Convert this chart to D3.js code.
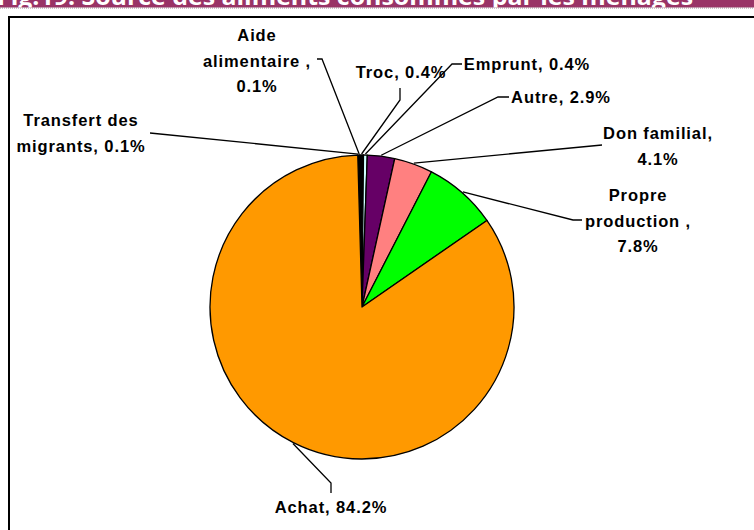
<!DOCTYPE html>
<html>
<head>
<meta charset="utf-8">
<script src="https://cdn.jsdelivr.net/npm/d3@7"></script>
<style>
  html, body { margin: 0; padding: 0; background: #fff; }
  svg { display: block; }
</style>
</head>
<body>
<svg id="chart" width="754" height="530"></svg>
<script>
// ---- data ----
const title = "Fig.19: Source des aliments consommés par les ménages";
const categories = ["Transfert des migrants", "Aide alimentaire", "Troc", "Emprunt", "Autre", "Don familial", "Propre production", "Achat"];
const values = [0.1, 0.1, 0.4, 0.4, 2.9, 4.1, 7.8, 84.2];
const labelLines = [
  ["Transfert des", "migrants, 0.1%"],
  ["Aide", "alimentaire ,", "0.1%"],
  ["Troc, 0.4%"],
  ["Emprunt, 0.4%"],
  ["Autre, 2.9%"],
  ["Don familial,", "4.1%"],
  ["Propre", "production ,", "7.8%"],
  ["Achat, 84.2%"]
];

// ---- styles / layout ----
const colors = ["#000000", "#000000", "#000000", "#CCFFFF", "#660066", "#FF8080", "#00FF00", "#FF9900"];
// label centre x, first baseline y
const labelPos = [[81, 126], [257, 41], [401, 78], [527, 70], [561, 103], [658, 139], [638, 201], [331, 513]];
// leader line points after the pie edge point
const leaderPts = [
  [[150, 133]],
  [[322, 59], [317, 59]],
  [[400, 100], [400, 88]],
  [[452, 64], [462, 64]],
  [[498, 97], [509, 97]],
  [[602, 145]],
  [[573, 220], [582, 220]],
  [[331, 483], [331, 493]]
];

const svg = d3.select("#chart");
const W = 754, H = 530;

// title band (clipped at top)
svg.append("rect").attr("x", 0).attr("y", 0).attr("width", W).attr("height", 7.5).attr("fill", "#993366");
svg.append("line").attr("x1", 0).attr("x2", W).attr("y1", 8).attr("y2", 8)
  .attr("stroke", "#9a8a90").attr("stroke-width", 1).attr("stroke-dasharray", "1,1");
svg.append("defs").append("clipPath").attr("id", "tclip")
  .append("rect").attr("x", 0).attr("y", 0).attr("width", W).attr("height", 7.5);
svg.append("text")
  .attr("clip-path", "url(#tclip)")
  .attr("x", -3).attr("y", 5)
  .attr("textLength", 696).attr("lengthAdjust", "spacingAndGlyphs")
  .attr("font-family", "'Open Sans', 'DejaVu Sans', sans-serif")
  .attr("font-weight", "bold").attr("font-size", 24)
  .attr("fill", "#ffffff")
  .text(title);

// chart frame
svg.append("rect").attr("x", 9).attr("y", 17).attr("width", W).attr("height", H)
  .attr("fill", "#fff").attr("stroke", "#000").attr("stroke-width", 2);

// pie
const cx = 362, cy = 307, r = 152;
const offset = -1.6 * Math.PI / 180;
const pie = d3.pie().sort(null).value(d => d)
  .startAngle(offset).endAngle(offset + 2 * Math.PI);
const arcs = pie(values);
const arc = d3.arc().innerRadius(0).outerRadius(r);

const g = svg.append("g").attr("transform", `translate(${cx},${cy})`);
g.selectAll("path.slice").data(arcs).enter().append("path")
  .attr("class", "slice")
  .attr("d", arc)
  .attr("fill", (d, i) => colors[i])
  .attr("stroke", "#000").attr("stroke-width", 1.3).attr("stroke-linejoin", "round");

// leader lines
arcs.forEach((d, i) => {
  const a = (d.startAngle + d.endAngle) / 2;
  const p0 = [cx + Math.sin(a) * (r + 1), cy - Math.cos(a) * (r + 1)];
  const pts = [p0].concat(leaderPts[i]);
  svg.append("path")
    .attr("d", d3.line()(pts))
    .attr("fill", "none").attr("stroke", "#000").attr("stroke-width", 1.3);
});

// labels
labelLines.forEach((lines, i) => {
  const t = svg.append("text")
    .attr("font-family", "'Liberation Sans', Arial, sans-serif")
    .attr("font-weight", "bold").attr("font-size", 16.5)
    .attr("letter-spacing", 0.9)
    .attr("fill", "#000").attr("text-anchor", "middle");
  lines.forEach((ln, j) => {
    t.append("tspan").attr("x", labelPos[i][0]).attr("y", labelPos[i][1] + j * 25.5).text(ln);
  });
});
</script>
</body>
</html>
